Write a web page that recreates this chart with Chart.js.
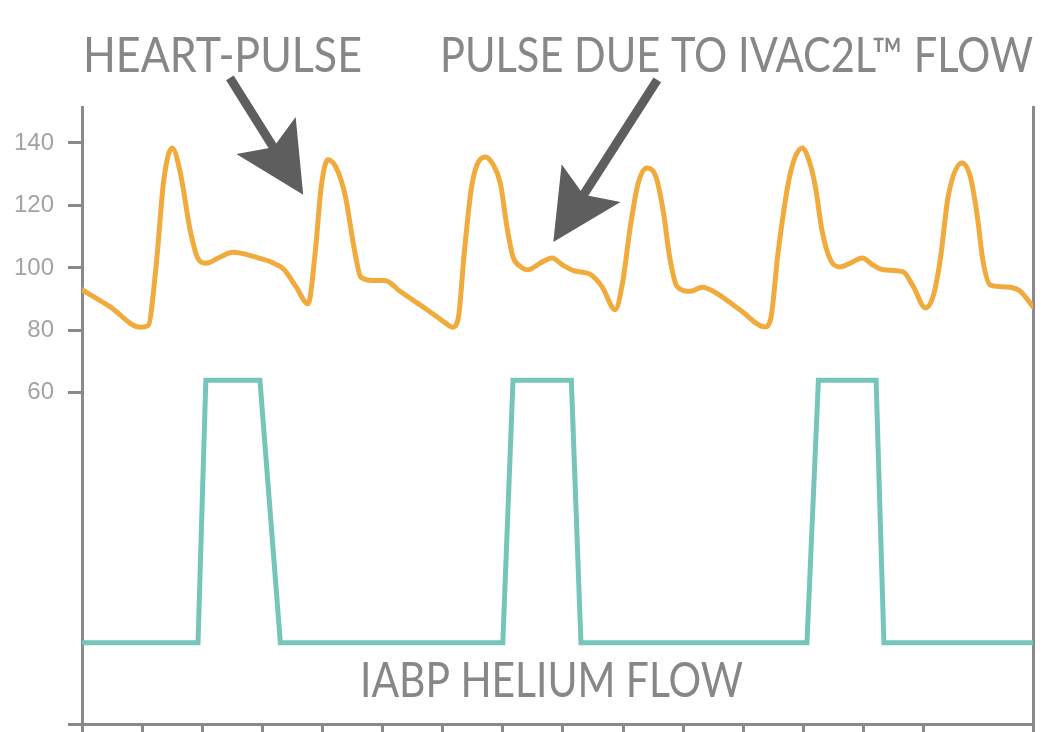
<!DOCTYPE html>
<html>
<head>
<meta charset="utf-8">
<script src="https://cdn.jsdelivr.net/npm/chart.js@4"></script>
<style>
  html, body { margin: 0; padding: 0; background: #ffffff; }
  #wrap { width: 1043px; height: 732px; position: relative; }
</style>
</head>
<body>
<div id="wrap"><canvas id="c" width="1043" height="732"></canvas></div>
<script>
// ---- data (x in tick units, y in the axis' units) ----
const pulseX = [0.00, 0.47, 0.97, 1.10, 1.23, 1.36, 1.50, 1.63, 1.80, 1.93, 2.06, 2.30, 2.51, 2.88, 3.18, 3.36, 3.56, 3.76, 3.88, 3.98, 4.09, 4.23, 4.38, 4.53, 4.64, 4.83, 5.04,
  5.29, 5.71, 6.04, 6.16, 6.26, 6.36, 6.49, 6.71, 6.84, 6.96, 7.07, 7.17, 7.29, 7.42, 7.62, 7.82, 7.99, 8.20, 8.45, 8.65, 8.87, 8.99, 9.12, 9.25, 9.40, 9.55, 9.67, 9.78, 9.90, 10.12, 10.32, 10.50, 10.95,
  11.36, 11.46, 11.58, 11.78, 11.98, 12.10, 12.20, 12.31, 12.45, 12.61, 12.78, 12.98, 13.15, 13.33, 13.66, 13.83, 14.03, 14.16, 14.28, 14.41, 14.64, 14.78, 14.89, 14.99, 15.11, 15.28, 15.44, 15.61, 15.82];
const pulseY = [93, 87.5, 81, 81.5, 100, 128, 138.4, 131, 112, 103, 101.5, 103.5, 105, 103.5, 101.6, 99.5, 94, 88.5, 105, 126, 134.6, 132, 123, 106, 97, 96, 96,
  92.5, 87, 82.5, 81, 84, 105, 127, 135.5, 133, 127, 113, 103.5, 100.5, 99.4, 101.5, 103.2, 101, 99, 98, 94, 86.6, 95, 113, 127, 132, 129, 118, 103, 94, 92.5, 93.8, 92.5, 86.5,
  81.1, 84, 105, 130, 138.4, 134, 126, 112, 102.6, 100.3, 101.5, 103.2, 101, 99.4, 98.7, 94, 87.2, 91, 103, 123, 133.6, 129, 117, 102, 94.5, 94, 93.8, 92.5, 87.5];
const heliumX = [0.00, 1.93, 2.06, 2.96, 3.30, 7.00, 7.17, 8.14, 8.30, 12.06, 12.25, 13.21, 13.34, 15.82];
const heliumY = [-20, -20, 64, 64, -20, -20, 64, 64, -20, -20, 64, 64, -20, -20];
const yTickValues = [60, 80, 100, 120, 140];
const topLabels = ["HEART-PULSE", "PULSE DUE TO IVAC2L\u2122 FLOW"];
const flowLabel = "IABP HELIUM FLOW";
// annotation arrows: tail and tip in data units
const arrowTails = [[2.46, 160.8], [9.57, 160.2]];
const arrowTips = [[3.68, 123.4], [7.84, 108.3]];

const toPts = (xs, ys) => xs.map((x, i) => ({ x: x, y: ys[i] }));

function fitText(ctx, str, left, width, baseline, font, color) {
  ctx.save();
  ctx.font = font;
  ctx.fillStyle = color;
  ctx.textAlign = 'left';
  ctx.textBaseline = 'alphabetic';
  const w = ctx.measureText(str).width;
  ctx.translate(left, baseline);
  ctx.scale(width / w, 1);
  ctx.fillText(str, 0, 0);
  ctx.restore();
}

const decor = {
  id: 'decor',
  afterDraw(chart) {
    const ctx = chart.ctx;
    const xs = chart.scales.x, ys = chart.scales.y;
    const font = '400 48px Lato, "Liberation Sans", sans-serif';
    const color = '#878787';
    fitText(ctx, topLabels[0], 83, 279, 72, font, color);
    fitText(ctx, topLabels[1], 440, 593, 72, font, color);
    fitText(ctx, flowLabel, 360, 383, 697, font, color);

    // bottom axis extension to the left
    ctx.save();
    ctx.strokeStyle = '#8a8a8a';
    ctx.lineWidth = 3;
    ctx.beginPath();
    ctx.moveTo(68, xs.top + 0.5);
    ctx.lineTo(chart.chartArea.left, xs.top + 0.5);
    ctx.stroke();
    ctx.restore();

    // arrows
    ctx.save();
    ctx.fillStyle = '#5e5e5e';
    ctx.strokeStyle = '#5e5e5e';
    arrowTails.forEach((t, i) => {
      const x0 = xs.getPixelForValue(t[0]), y0 = ys.getPixelForValue(t[1]);
      const x1 = xs.getPixelForValue(arrowTips[i][0]), y1 = ys.getPixelForValue(arrowTips[i][1]);
      const ang = Math.atan2(y1 - y0, x1 - x0);
      const c = Math.cos(ang), s = Math.sin(ang);
      const headLen = 66, headHalf = 35;
      const bx = x1 - headLen * c, by = y1 - headLen * s;
      ctx.lineWidth = 9;
      ctx.beginPath();
      ctx.moveTo(x0, y0);
      ctx.lineTo(bx + 12 * c, by + 12 * s);
      ctx.stroke();
      ctx.beginPath();
      ctx.moveTo(x1, y1);
      ctx.lineTo(bx - headHalf * s - 4 * c, by + headHalf * c - 4 * s);
      ctx.lineTo(bx + 10 * c, by + 10 * s);
      ctx.lineTo(bx + headHalf * s - 4 * c, by - headHalf * c - 4 * s);
      ctx.closePath();
      ctx.fill();
    });
    ctx.restore();
  }
};

const axisColor = '#8a8a8a';
new Chart(document.getElementById('c'), {
  type: 'line',
  data: {
    datasets: [
      {
        label: 'Pulse',
        data: toPts(pulseX, pulseY),
        borderColor: '#f1ab3d',
        borderWidth: 5,
        pointRadius: 0,
        cubicInterpolationMode: 'monotone',
        borderJoinStyle: 'round',
        borderCapStyle: 'round',
        fill: false
      },
      {
        label: 'IABP helium flow',
        data: toPts(heliumX, heliumY),
        borderColor: '#76c5b9',
        borderWidth: 5,
        pointRadius: 0,
        tension: 0,
        borderJoinStyle: 'miter',
        fill: false
      }
    ]
  },
  options: {
    responsive: false,
    animation: false,
    layout: { padding: { top: 107, right: 10, bottom: 0, left: 0 } },
    plugins: { legend: { display: false }, tooltip: { enabled: false } },
    scales: {
      x: {
        type: 'linear',
        min: 0,
        max: 15.82,
        afterFit: (s) => { s.height = 8; s.paddingLeft = 0; s.paddingRight = 0; },
        ticks: { display: false, stepSize: 1 },
        grid: { drawOnChartArea: false, drawTicks: true, tickLength: 8, color: axisColor, lineWidth: 3 },
        border: { display: true, color: axisColor, width: 3 }
      },
      y: {
        type: 'linear',
        position: 'left',
        min: -46,
        max: 151.5,
        afterBuildTicks: (s) => { s.ticks = yTickValues.map(v => ({ value: v })); },
        afterFit: (s) => { s.width = 82; s.paddingTop = 0; s.paddingBottom = 0; },
        ticks: {
          padding: 14,
          color: '#a3a3a3',
          font: { family: '"Liberation Sans", Arial, sans-serif', size: 24 }
        },
        grid: { drawOnChartArea: false, drawTicks: true, tickLength: 14, color: axisColor, lineWidth: 3 },
        border: { display: true, color: axisColor, width: 3 }
      },
      y2: {
        type: 'linear',
        position: 'right',
        min: -46,
        max: 151.5,
        afterFit: (s) => { s.width = 0; s.paddingTop = 0; s.paddingBottom = 0; },
        ticks: { display: false },
        grid: { display: false, drawTicks: false },
        border: { display: true, color: axisColor, width: 3 }
      }
    }
  },
  plugins: [decor]
});
</script>
</body>
</html>
